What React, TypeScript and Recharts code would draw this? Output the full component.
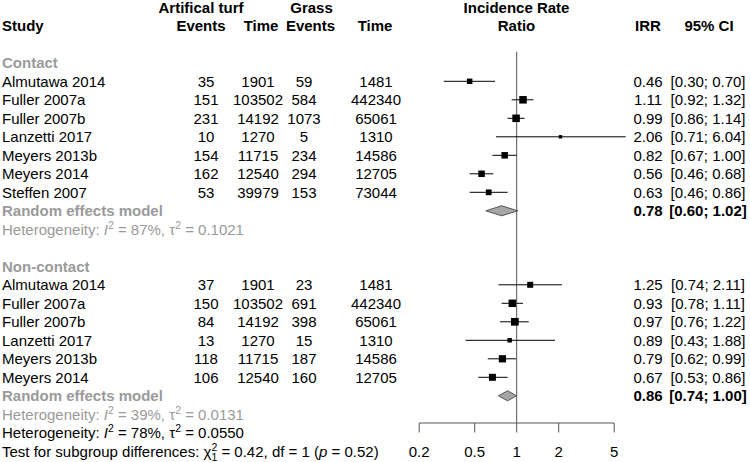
import React from "react";
import {
  Area,
  ComposedChart,
  ErrorBar,
  ReferenceDot,
  ReferenceLine,
  Scatter,
  XAxis,
  YAxis,
} from "recharts";

// Contact subgroup
const contactStudies = [
  "Almutawa 2014",
  "Fuller 2007a",
  "Fuller 2007b",
  "Lanzetti 2017",
  "Meyers 2013b",
  "Meyers 2014",
  "Steffen 2007",
];
const contactTurfEvents = [35, 151, 231, 10, 154, 162, 53];
const contactTurfTime = [1901, 103502, 14192, 1270, 11715, 12540, 39979];
const contactGrassEvents = [59, 584, 1073, 5, 234, 294, 153];
const contactGrassTime = [1481, 442340, 65061, 1310, 14586, 12705, 73044];
const contactIrr = [0.46, 1.11, 0.99, 2.06, 0.82, 0.56, 0.63];
const contactLower = [0.3, 0.92, 0.86, 0.71, 0.67, 0.46, 0.46];
const contactUpper = [0.7, 1.32, 1.14, 6.04, 1.0, 0.68, 0.86];
const contactWeight = [11.0, 20.8, 20.8, 4.3, 15.5, 15.5, 12.1];

// Non-contact subgroup
const nonContactStudies = [
  "Almutawa 2014",
  "Fuller 2007a",
  "Fuller 2007b",
  "Lanzetti 2017",
  "Meyers 2013b",
  "Meyers 2014",
];
const nonContactTurfEvents = [37, 150, 84, 13, 118, 106];
const nonContactTurfTime = [1901, 103502, 14192, 1270, 11715, 12540];
const nonContactGrassEvents = [23, 691, 398, 15, 187, 160];
const nonContactGrassTime = [1481, 442340, 65061, 1310, 14586, 12705];
const nonContactIrr = [1.25, 0.93, 0.97, 0.89, 0.79, 0.67];
const nonContactLower = [0.74, 0.78, 0.76, 0.43, 0.62, 0.53];
const nonContactUpper = [2.11, 1.11, 1.22, 1.88, 0.99, 0.86];
const nonContactWeight = [13.2, 20.6, 21.8, 7.4, 19.1, 17.9];

// pooled (random effects) estimates: [irr, lower, upper]
const contactPooled = [0.78, 0.6, 1.02];
const nonContactPooled = [0.86, 0.74, 1.0];

// heterogeneity: [I2 %, tau2]
const contactHet = [87, "0.1021"];
const nonContactHet = [39, "0.0131"];
const overallHet = [78, "0.0550"];
const subgroupTest = { chi2: "0.42", df: 1, p: "0.52" };

const axisTicks = [0.2, 0.5, 1, 2, 5];

// layout
const W = 750;
const H = 462;
const FONT = "'Liberation Sans', Arial, Helvetica, sans-serif";
const FS = 15;
const GRAY = "#9a9a9a";
const LINE = "#555555";
const ROW0 = 7.3; // y of the first text row
const ROW_H = 18.5;
const PLOT_BOTTOM = 423;
const Y_DOMAIN = [-ROW0 / ROW_H, (PLOT_BOTTOM - ROW0) / ROW_H];
const X_ONE = 516.7; // pixel of IRR = 1
const DECADE = 139.5; // pixels per decade
const X_DOMAIN = [
  Math.pow(10, -X_ONE / DECADE),
  Math.pow(10, (W - X_ONE) / DECADE),
];
const SQ_MAX = 7.7;
const DIAMOND_H = 5 / ROW_H;

const CONTACT_START = 4;
const NONCONTACT_START = 15;

const col = {
  study: 2,
  turfEvents: 206,
  turfTime: 258,
  grassEvents: 304,
  grassTime: 376,
  plot: 516.5,
  irr: 648,
  ci: 708,
};

const fmt = (v: number) => v.toFixed(2);
const ciText = (lo: number, hi: number) => `[${fmt(lo)}; ${fmt(hi)}]`;

const maxW = Math.max(...contactWeight, ...nonContactWeight);

const studyPoints = [
  ...contactIrr.map((irr, i) => ({
    irr,
    row: CONTACT_START + i,
    err: [irr - contactLower[i], contactUpper[i] - irr],
    w: contactWeight[i],
  })),
  ...nonContactIrr.map((irr, i) => ({
    irr,
    row: NONCONTACT_START + i,
    err: [irr - nonContactLower[i], nonContactUpper[i] - irr],
    w: nonContactWeight[i],
  })),
];

const diamond = (p: number[], row: number) => [
  { irr: p[1], band: [row, row] },
  { irr: p[0], band: [row - DIAMOND_H, row + DIAMOND_H] },
  { irr: p[2], band: [row, row] },
];
const contactRow = CONTACT_START + contactStudies.length;
const nonContactRow = NONCONTACT_START + nonContactStudies.length;

type Cell = {
  px: number;
  row: number;
  content: React.ReactNode;
  anchor?: "start" | "middle" | "end";
  bold?: boolean;
  color?: string;
};

const hetText = (h: (number | string)[]) => (
  <>
    {"Heterogeneity: "}
    <tspan fontStyle="italic">I</tspan>
    <tspan dy={-6} fontSize={10.5}>
      2
    </tspan>
    <tspan dy={6}>{` = ${h[0]}%, τ`}</tspan>
    <tspan dy={-6} fontSize={10.5}>
      2
    </tspan>
    <tspan dy={6}>{` = ${h[1]}`}</tspan>
  </>
);

const testText = (
  <>
    {"Test for subgroup differences: χ"}
    <tspan dy={-6} fontSize={10.5}>
      2
    </tspan>
    <tspan dx={-5.8} dy={10} fontSize={10.5}>
      1
    </tspan>
    <tspan dy={-4}>{` = ${subgroupTest.chi2}, df = ${subgroupTest.df} (`}</tspan>
    <tspan fontStyle="italic">p</tspan>
    <tspan>{` = ${subgroupTest.p})`}</tspan>
  </>
);

const studyCells = (
  names: string[],
  te: number[],
  tt: number[],
  ge: number[],
  gt: number[],
  irr: number[],
  lo: number[],
  hi: number[],
  start: number
): Cell[] =>
  names.flatMap((n, i) => [
    { px: col.study, row: start + i, content: n, anchor: "start" as const },
    { px: col.turfEvents, row: start + i, content: te[i] },
    { px: col.turfTime, row: start + i, content: tt[i] },
    { px: col.grassEvents, row: start + i, content: ge[i] },
    { px: col.grassTime, row: start + i, content: gt[i] },
    { px: col.irr, row: start + i, content: fmt(irr[i]) },
    { px: col.ci, row: start + i, content: ciText(lo[i], hi[i]) },
  ]);

// table text inside the plotting rows
const cells: Cell[] = [
  { px: 201, row: 0, content: "Artifical turf", bold: true },
  { px: 311.5, row: 0, content: "Grass", bold: true },
  { px: col.plot, row: 0, content: "Incidence Rate", bold: true },
  { px: col.study, row: 1, content: "Study", bold: true, anchor: "start" },
  { px: 201, row: 1, content: "Events", bold: true },
  { px: 261, row: 1, content: "Time", bold: true },
  { px: 310.5, row: 1, content: "Events", bold: true },
  { px: 375, row: 1, content: "Time", bold: true },
  { px: col.plot, row: 1, content: "Ratio", bold: true },
  { px: col.irr, row: 1, content: "IRR", bold: true },
  { px: 709, row: 1, content: "95% CI", bold: true },
  { px: col.study, row: 3, content: "Contact", bold: true, anchor: "start", color: GRAY },
  ...studyCells(
    contactStudies,
    contactTurfEvents,
    contactTurfTime,
    contactGrassEvents,
    contactGrassTime,
    contactIrr,
    contactLower,
    contactUpper,
    CONTACT_START
  ),
  { px: col.study, row: contactRow, content: "Random effects model", bold: true, anchor: "start", color: GRAY },
  { px: col.irr, row: contactRow, content: fmt(contactPooled[0]), bold: true },
  { px: col.ci, row: contactRow, content: ciText(contactPooled[1], contactPooled[2]), bold: true },
  { px: col.study, row: contactRow + 1, content: hetText(contactHet), anchor: "start", color: GRAY },
  { px: col.study, row: NONCONTACT_START - 1, content: "Non-contact", bold: true, anchor: "start", color: GRAY },
  ...studyCells(
    nonContactStudies,
    nonContactTurfEvents,
    nonContactTurfTime,
    nonContactGrassEvents,
    nonContactGrassTime,
    nonContactIrr,
    nonContactLower,
    nonContactUpper,
    NONCONTACT_START
  ),
  { px: col.study, row: nonContactRow, content: "Random effects model", bold: true, anchor: "start", color: GRAY },
  { px: col.irr, row: nonContactRow, content: fmt(nonContactPooled[0]), bold: true },
  { px: col.ci, row: nonContactRow, content: ciText(nonContactPooled[1], nonContactPooled[2]), bold: true },
  { px: col.study, row: nonContactRow + 1, content: hetText(nonContactHet), anchor: "start", color: GRAY },
];

// footer lines sit below the forest, under the axis line
const footer: Cell[] = [
  { px: col.study, row: nonContactRow + 2, content: hetText(overallHet), anchor: "start" },
  { px: col.study, row: nonContactRow + 3, content: testText, anchor: "start" },
];

const renderText = (c: Cell, x: number, y: number) => (
  <text
    x={x}
    y={y}
    dy="0.36em"
    textAnchor={c.anchor ?? "middle"}
    fontFamily={FONT}
    fontSize={FS}
    fontWeight={c.bold ? "bold" : "normal"}
    fill={c.color ?? "#000"}
  >
    {c.content}
  </text>
);

const TextShape = (p: any) => renderText(p.payload, p.cx, p.cy);

const Square = (p: any) => {
  const s = SQ_MAX * Math.sqrt(p.payload.w / maxW);
  return <rect x={p.cx - s / 2} y={p.cy - s / 2} width={s} height={s} fill="#000" />;
};

export default function App() {
  return (
    <div style={{ position: "absolute", left: 0, top: 0, width: W, height: H, background: "#fff" }}>
      <ComposedChart width={W} height={H} margin={{ top: 0, right: 0, bottom: 0, left: 0 }}>
        <XAxis
          xAxisId="irr"
          type="number"
          scale="log"
          dataKey="irr"
          domain={X_DOMAIN}
          allowDataOverflow
          ticks={axisTicks}
          interval={0}
          axisLine={false}
          tickLine={{ stroke: LINE }}
          tickSize={9.5}
          tickMargin={13.5}
          height={H - PLOT_BOTTOM}
          tick={{ fontSize: FS, fill: "#000", fontFamily: FONT }}
          tickFormatter={(v: number) => String(v)}
        />
        <XAxis xAxisId="px" type="number" dataKey="px" domain={[0, W]} allowDataOverflow hide />
        <YAxis
          yAxisId="row"
          type="number"
          dataKey="row"
          domain={Y_DOMAIN}
          allowDataOverflow
          reversed
          hide
          width={0}
        />
        <Scatter
          xAxisId="px"
          yAxisId="row"
          data={cells}
          shape={TextShape}
          isAnimationActive={false}
        />
        {footer.map((c, i) => (
          <ReferenceDot
            key={`foot-${i}`}
            xAxisId="px"
            yAxisId="row"
            x={c.px}
            y={c.row}
            r={1}
            ifOverflow="visible"
            shape={(p: any) => renderText(c, p.cx, p.cy)}
          />
        ))}
        <ReferenceLine
          xAxisId="irr"
          yAxisId="row"
          segment={[
            { x: 1, y: 2.4 },
            { x: 1, y: Y_DOMAIN[1] },
          ]}
          stroke={LINE}
          ifOverflow="visible"
        />
        <ReferenceLine
          xAxisId="irr"
          yAxisId="row"
          segment={[
            { x: axisTicks[0], y: Y_DOMAIN[1] },
            { x: axisTicks[axisTicks.length - 1], y: Y_DOMAIN[1] },
          ]}
          stroke={LINE}
          ifOverflow="visible"
        />
        <Scatter
          xAxisId="irr"
          yAxisId="row"
          data={studyPoints}
          shape={Square}
          isAnimationActive={false}
        >
          <ErrorBar dataKey="err" direction="x" width={0} stroke="#000" strokeWidth={1} />
        </Scatter>
        <Area
          xAxisId="irr"
          yAxisId="row"
          data={diamond(contactPooled, contactRow)}
          dataKey="band"
          type="linear"
          stroke={LINE}
          fill="#a6a6a6"
          fillOpacity={1}
          dot={false}
          activeDot={false}
          isAnimationActive={false}
        />
        <Area
          xAxisId="irr"
          yAxisId="row"
          data={diamond(nonContactPooled, nonContactRow)}
          dataKey="band"
          type="linear"
          stroke={LINE}
          fill="#a6a6a6"
          fillOpacity={1}
          dot={false}
          activeDot={false}
          isAnimationActive={false}
        />
      </ComposedChart>
    </div>
  );
}
